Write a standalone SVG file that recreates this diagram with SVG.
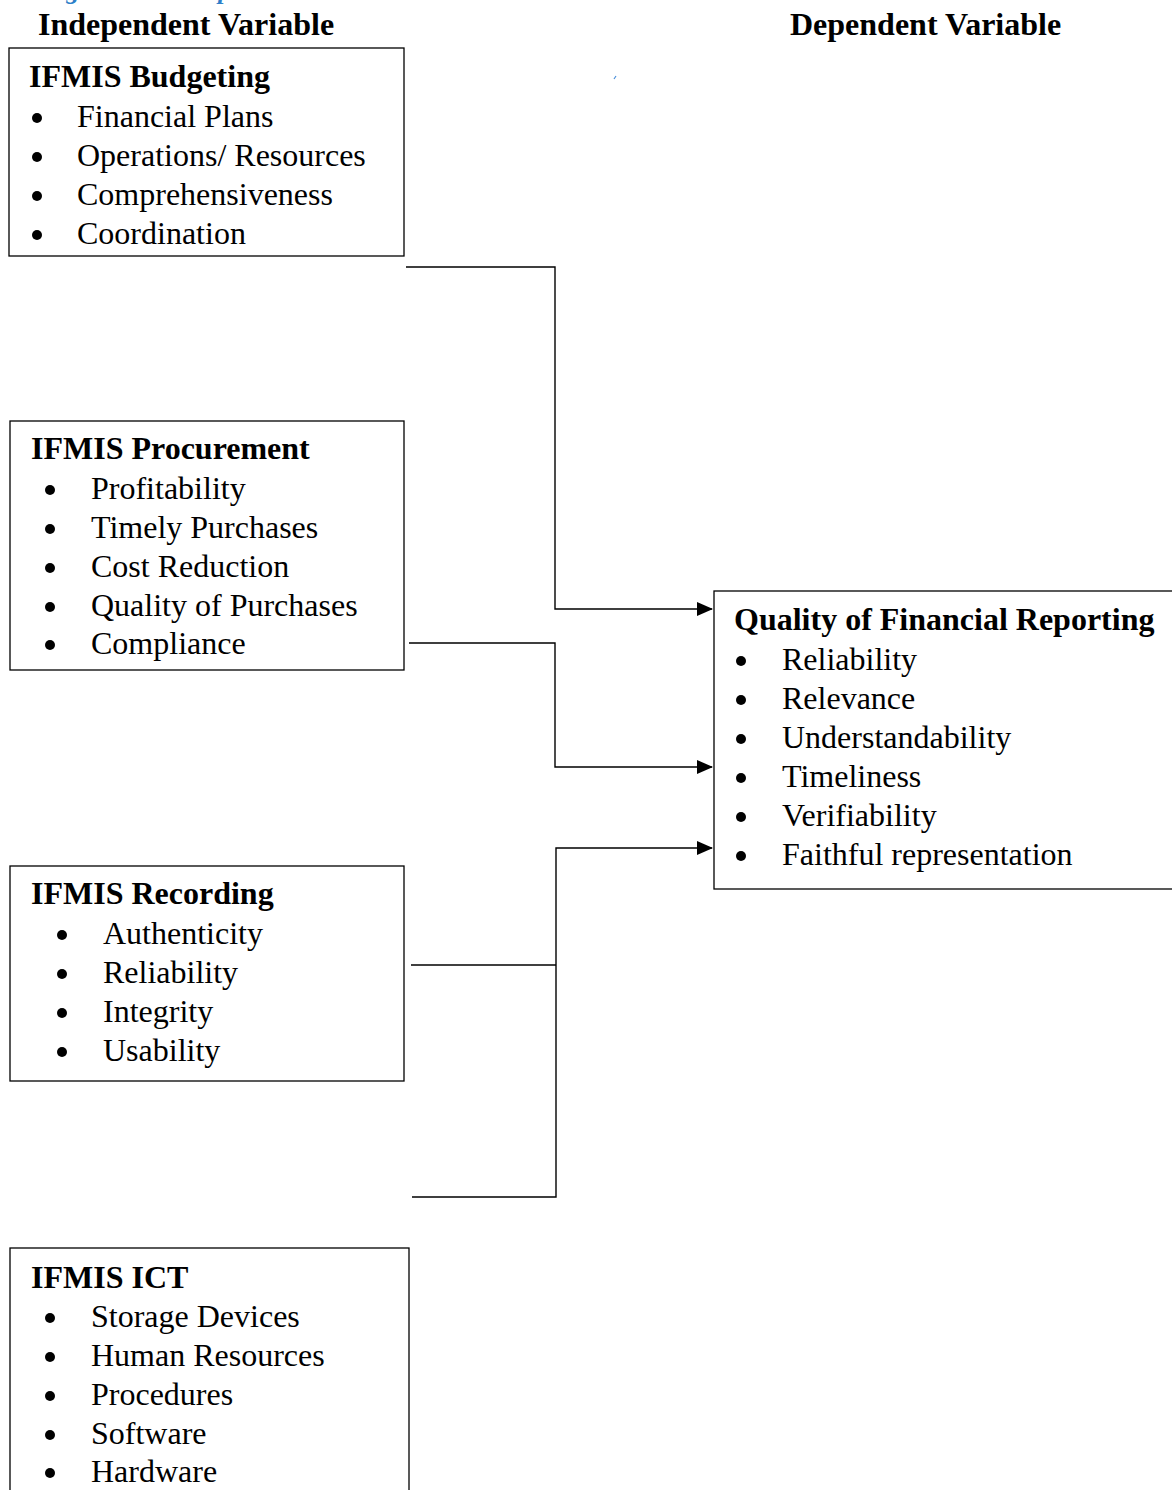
<svg xmlns="http://www.w3.org/2000/svg" width="1172" height="1490" viewBox="0 0 1172 1490">
<style>
.t{font-family:"Liberation Serif",serif;font-size:32px;fill:#000}
.b{font-weight:bold}
.box{fill:#fff;stroke:#000;stroke-width:1.3}
.ln{fill:none;stroke:#000;stroke-width:1.4}
.cap{font-family:"Liberation Serif",serif;font-size:26px;font-weight:bold;font-style:italic;fill:#2e7fc9}
</style>
<defs>
<marker id="ah" markerWidth="16" markerHeight="14" refX="15" refY="7" orient="auto" markerUnits="userSpaceOnUse">
<path d="M0,0 L16,7 L0,14 Z" fill="#000"/>
</marker>
</defs>
<rect width="1172" height="1490" fill="#fff"/>
<text class="cap" x="42" y="-1.5">Figure 1: Conceptual Framework</text>
<path d="M614,79 L616,76" stroke="#4a8fd9" stroke-width="1.2"/>
<text class="t b" x="38" y="35">Independent Variable</text>
<text class="t b" x="790" y="35">Dependent Variable</text>
<g id="budgeting">
<rect class="box" x="9" y="48" width="395" height="208"/>
<text class="t b" x="29" y="87">IFMIS Budgeting</text>
<g fill="#000"><circle cx="37" cy="118" r="5"/><circle cx="37" cy="157" r="5"/><circle cx="37" cy="196" r="5"/><circle cx="37" cy="235" r="5"/></g>
<text class="t" x="77" y="127">Financial Plans</text>
<text class="t" x="77" y="166">Operations/ Resources</text>
<text class="t" x="77" y="205">Comprehensiveness</text>
<text class="t" x="77" y="244">Coordination</text>
</g>
<g id="procurement">
<rect class="box" x="10" y="421" width="394" height="249"/>
<text class="t b" x="31" y="459">IFMIS Procurement</text>
<g fill="#000"><circle cx="50" cy="490" r="5"/><circle cx="50" cy="529" r="5"/><circle cx="50" cy="568" r="5"/><circle cx="50" cy="607" r="5"/><circle cx="50" cy="645" r="5"/></g>
<text class="t" x="91" y="499">Profitability</text>
<text class="t" x="91" y="538">Timely Purchases</text>
<text class="t" x="91" y="577">Cost Reduction</text>
<text class="t" x="91" y="616">Quality of Purchases</text>
<text class="t" x="91" y="654">Compliance</text>
</g>
<g id="recording">
<rect class="box" x="10" y="866" width="394" height="215"/>
<text class="t b" x="31" y="904">IFMIS Recording</text>
<g fill="#000"><circle cx="62" cy="935" r="5"/><circle cx="62" cy="974" r="5"/><circle cx="62" cy="1013" r="5"/><circle cx="62" cy="1052" r="5"/></g>
<text class="t" x="103" y="944">Authenticity</text>
<text class="t" x="103" y="983">Reliability</text>
<text class="t" x="103" y="1022">Integrity</text>
<text class="t" x="103" y="1061">Usability</text>
</g>
<g id="ict">
<rect class="box" x="10" y="1248" width="399" height="260"/>
<text class="t b" x="31" y="1288">IFMIS ICT</text>
<g fill="#000"><circle cx="50" cy="1318" r="5"/><circle cx="50" cy="1357" r="5"/><circle cx="50" cy="1396" r="5"/><circle cx="50" cy="1435" r="5"/><circle cx="50" cy="1473" r="5"/></g>
<text class="t" x="91" y="1327">Storage Devices</text>
<text class="t" x="91" y="1366">Human Resources</text>
<text class="t" x="91" y="1405">Procedures</text>
<text class="t" x="91" y="1444">Software</text>
<text class="t" x="91" y="1482">Hardware</text>
</g>
<g id="quality">
<rect class="box" x="714" y="591" width="470" height="298"/>
<text class="t b" x="734" y="630">Quality of Financial Reporting</text>
<g fill="#000"><circle cx="741" cy="661" r="5"/><circle cx="741" cy="700" r="5"/><circle cx="741" cy="739" r="5"/><circle cx="741" cy="778" r="5"/><circle cx="741" cy="817" r="5"/><circle cx="741" cy="856" r="5"/></g>
<text class="t" x="782" y="670">Reliability</text>
<text class="t" x="782" y="709">Relevance</text>
<text class="t" x="782" y="748">Understandability</text>
<text class="t" x="782" y="787">Timeliness</text>
<text class="t" x="782" y="826">Verifiability</text>
<text class="t" x="782" y="865">Faithful representation</text>
</g>
<g id="connectors">
<path class="ln" d="M406,267 H555 V609 H712" marker-end="url(#ah)"/>
<path class="ln" d="M409,643 H555 V767 H712" marker-end="url(#ah)"/>
<path class="ln" d="M411,965 H556"/>
<path class="ln" d="M412,1197 H556 V848 H712" marker-end="url(#ah)"/>
</g>
</svg>
